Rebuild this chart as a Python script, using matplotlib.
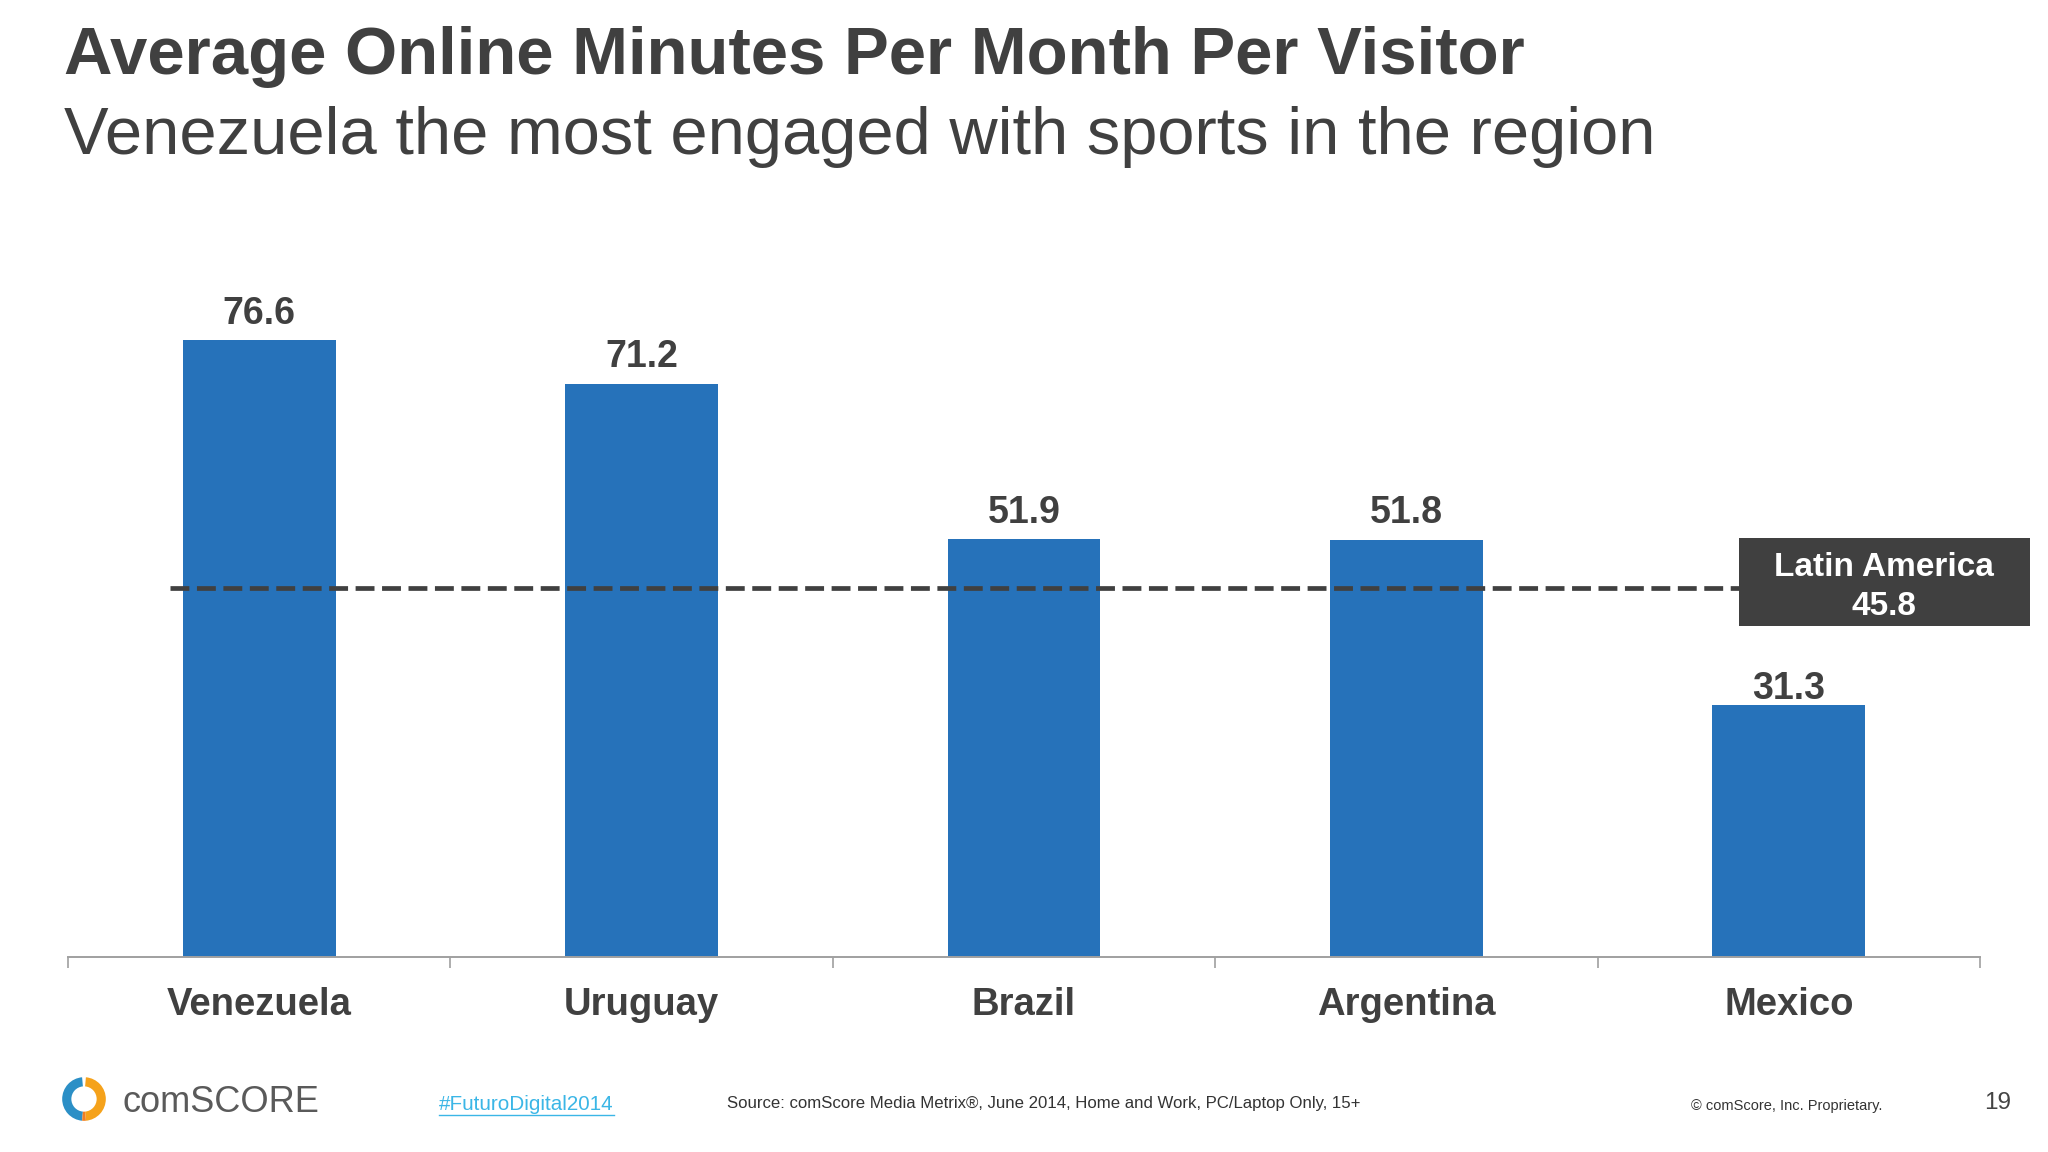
import matplotlib
matplotlib.use("Agg")
import matplotlib.pyplot as plt
from matplotlib.patches import Rectangle, Wedge

plt.rcParams['font.family'] = ['Liberation Sans', 'DejaVu Sans']

# ---- data ----
countries = ["Venezuela", "Uruguay", "Brazil", "Argentina", "Mexico"]
minutes = [76.6, 71.2, 51.9, 51.8, 31.3]
region_label = "Latin America"
region_avg = 45.8

title = "Average Online Minutes Per Month Per Visitor"
subtitle = "Venezuela the most engaged with sports in the region"
source = "Source: comScore Media Metrix®, June 2014, Home and Work, PC/Laptop Only, 15+"
hashtag = "#FuturoDigital2014"
copyright_txt = "© comScore, Inc. Proprietary."
page_no = "19"

BAR = "#2672BA"
DARK = "#404040"

W, H = 2048, 1152
fig = plt.figure(figsize=(W / 100, H / 100), dpi=100)
fig.patch.set_facecolor("white")

def fx(px):
    return px / W

def fy(py):
    return 1 - py / H

# axes: x 68..1980 px, baseline at 957 px, 8.05 px per unit
ymax = 90
ax_h = ymax * 8.05
ax = fig.add_axes([fx(68), fy(957), fx(1980) - fx(68), ax_h / H])
x = list(range(len(countries)))
ax.bar(x, minutes, width=0.4, color=BAR, zorder=2)
ax.set_xlim(-0.5, len(countries) - 0.5)
ax.set_ylim(0, ymax)

for s in ["top", "right", "left"]:
    ax.spines[s].set_visible(False)
ax.spines["bottom"].set_color("#A0A0A0")
ax.spines["bottom"].set_linewidth(1.4)
ax.set_yticks([])
ax.set_xticks([i - 0.5 for i in range(len(countries) + 1)])
ax.set_xticklabels([])
ax.tick_params(axis="x", direction="out", length=8, width=1.2, color="#A0A0A0")

for i, (c, v) in enumerate(zip(countries, minutes)):
    off = 4 if i == len(countries) - 1 else 12
    ax.annotate(f"{v:.1f}", xy=(i, v), xytext=(0, off), textcoords="offset points",
                ha="center", va="baseline", fontsize=27, fontweight="bold", color=DARK)
    ax.annotate(c, xy=(i, 0), xycoords=("data", "axes fraction"), xytext=(0, -41.5),
                textcoords="offset points", ha="center", va="baseline",
                fontsize=27.5, fontweight="bold", color=DARK, annotation_clip=False)

# average dashed line
ax.hlines(region_avg, -0.233, 3.87, colors=DARK, linewidth=3.4,
          linestyles=(0, (4, 1.6)), zorder=3, clip_on=False)

# label box
bx0, bx1 = 3.87, 4.63
by0, by1 = region_avg - 4.7, region_avg + 6.2
ax.add_patch(Rectangle((bx0, by0), bx1 - bx0, by1 - by0, facecolor="#404040",
                       edgecolor="none", clip_on=False, zorder=4))
ax.text((bx0 + bx1) / 2, region_avg + 1.55, region_label, ha="center", va="baseline",
        fontsize=24, fontweight="bold", color="white", zorder=5, clip_on=False)
ax.text((bx0 + bx1) / 2, region_avg - 3.35, f"{region_avg:.1f}", ha="center", va="baseline",
        fontsize=24, fontweight="bold", color="white", zorder=5, clip_on=False)

# titles
fig.text(fx(64), fy(74), title, ha="left", va="baseline", fontsize=48.3,
         fontweight="bold", color=DARK)
fig.text(fx(64), fy(154), subtitle, ha="left", va="baseline", fontsize=48.2,
         color=DARK)

# footer
lax = fig.add_axes([fx(60), fy(1123), fx(48), 48 / H])
lax.set_xlim(-1.1, 1.1)
lax.set_ylim(-1.1, 1.1)
lax.set_aspect("equal")
lax.axis("off")
lax.add_patch(Wedge((0, 0), 1.0, 95, 265, width=0.42, facecolor="#2B8FC6", edgecolor="none"))
lax.add_patch(Wedge((0, 0), 1.0, -85, 85, width=0.42, facecolor="#F5A21B", edgecolor="none"))
lax.add_patch(Wedge((0, 0), 1.0, 265, 275, width=0.42, facecolor="#F07E22", edgecolor="none"))

fig.text(fx(123), fy(1112), "comSCORE", ha="left", va="baseline", fontsize=26,
         color="#5A5A5A")

ht = fig.text(fx(439), fy(1110), hashtag, ha="left", va="baseline", fontsize=14.9,
              color="#3BB6E6")
fig.canvas.draw()
bb = ht.get_window_extent()
fig.add_artist(plt.Line2D([bb.x0 / W, bb.x1 / W], [(bb.y0 - 1) / H, (bb.y0 - 1) / H],
                          color="#3BB6E6", linewidth=1.0, transform=fig.transFigure))

fig.text(fx(727), fy(1108), source, ha="left", va="baseline", fontsize=12.1, color="#333333")
fig.text(fx(1691), fy(1110), copyright_txt, ha="left", va="baseline", fontsize=10.5,
         color="#333333")
fig.text(fx(1984), fy(1109), page_no, ha="left", va="baseline", fontsize=17.5, color="#444444")

fig.savefig("out.png", dpi=100, facecolor="white")
